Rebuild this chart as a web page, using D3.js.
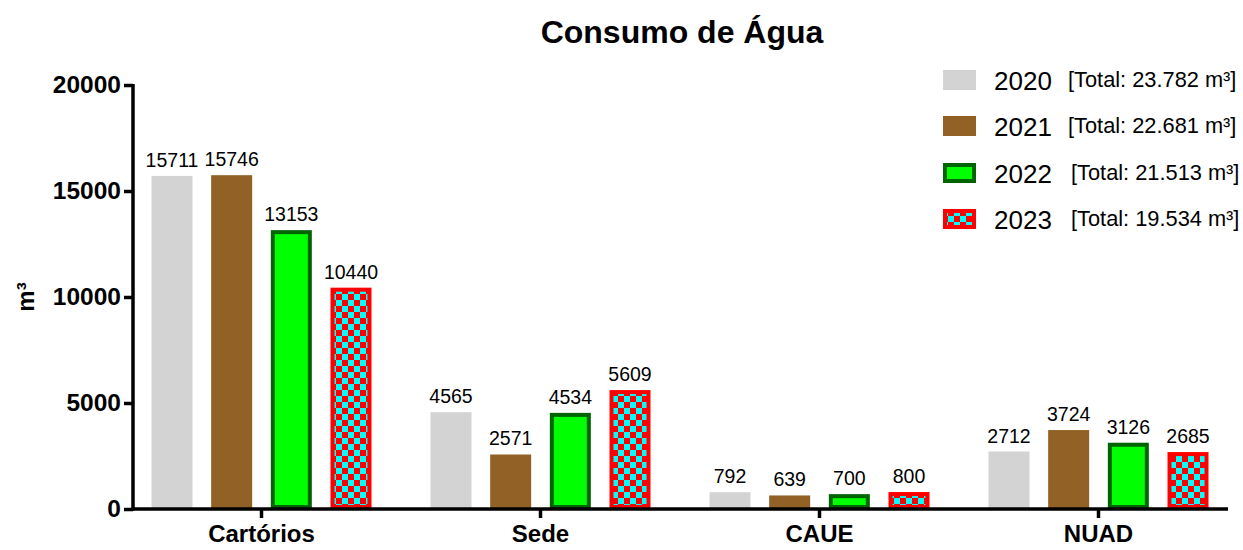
<!DOCTYPE html>
<html>
<head>
<meta charset="utf-8">
<script src="https://cdn.jsdelivr.net/npm/d3@7"></script>
<style>
  body { margin: 0; background: #fff; }
  text { font-family: "Liberation Sans", Arial, sans-serif; }
</style>
</head>
<body>
<svg width="1243" height="550"></svg>
<script>
const categories = ['Cartórios', 'Sede', 'CAUE', 'NUAD'];
const years = ['2020', '2021', '2022', '2023'];
const totals = ['[Total: 23.782 m³]', '[Total: 22.681 m³]', '[Total: 21.513 m³]', '[Total: 19.534 m³]'];
const v2020 = [15711, 4565, 792, 2712];
const v2021 = [15746, 2571, 639, 3724];
const v2022 = [13153, 4534, 700, 3126];
const v2023 = [10440, 5609, 800, 2685];
const yTicks = [0, 5000, 10000, 15000, 20000];

const seriesVals = [v2020, v2021, v2022, v2023];

const svg = d3.select('svg');
const width = +svg.attr('width');
const height = +svg.attr('height');

const defs = svg.append('defs');
const pat = defs.append('pattern')
  .attr('id', 'checker')
  .attr('width', 12).attr('height', 12)
  .attr('patternUnits', 'userSpaceOnUse');
pat.append('rect').attr('width', 12).attr('height', 12).attr('fill', '#ff0000');
pat.append('rect').attr('width', 6).attr('height', 6).attr('fill', '#00ffff');
pat.append('rect').attr('x', 6).attr('y', 6).attr('width', 6).attr('height', 6).attr('fill', '#00ffff');

const styles = [
  {fill: '#d3d3d3', stroke: 'none', sw: 0},
  {fill: '#916125', stroke: 'none', sw: 0},
  {fill: '#00ff00', stroke: '#006400', sw: 4},
  {fill: 'url(#checker)', stroke: '#ff0000', sw: 4}
];

const y = d3.scaleLinear().domain([0, 20000]).range([509, 85]);
const x0 = d3.scaleBand().domain(categories).range([122, 1238]);
const x1 = d3.scaleBand().domain(years).range([-110, 110]).paddingInner(0.313).paddingOuter(0);

// title
svg.append('text')
  .attr('x', 682).attr('y', 43)
  .attr('text-anchor', 'middle')
  .attr('font-size', 32).attr('font-weight', 'bold')
  .text('Consumo de Água');

// bars
years.forEach((yr, i) => {
  const st = styles[i];
  const g = svg.append('g');
  categories.forEach((c, j) => {
    const v = seriesVals[i][j];
    const cx = x0(c) + x0.bandwidth() / 2;
    const bx = cx + x1(yr);
    const bw = x1.bandwidth();
    const inset = st.sw / 2;
    g.append('rect')
      .attr('x', bx + inset)
      .attr('y', y(v) + inset)
      .attr('width', bw - st.sw)
      .attr('height', Math.max(0, y(0) - y(v) - st.sw))
      .attr('fill', st.fill)
      .attr('stroke', st.stroke)
      .attr('stroke-width', st.sw);
    g.append('text')
      .attr('x', bx + bw / 2)
      .attr('y', y(v) - 9)
      .attr('text-anchor', 'middle')
      .attr('font-size', 19.5)
      .text(v);
  });
});

// y axis
const yAxis = d3.axisLeft(y).tickValues(yTicks).tickSize(9).tickSizeOuter(0).tickPadding(3).tickFormat(d3.format('d'));
const ga = svg.append('g').attr('transform', 'translate(133,0)').call(yAxis);
ga.select('.domain').attr('stroke-width', 3.5).attr('d', 'M0,84V510.5');
ga.selectAll('.tick line').attr('stroke-width', 3.5);
ga.selectAll('.tick text').attr('font-size', 24.5).attr('font-weight', 'bold')
  .attr('font-family', '"Liberation Sans", Arial, sans-serif').attr('fill', '#000');

// x axis
const xAxis = d3.axisBottom(x0).tickSize(9).tickSizeOuter(0).tickPadding(7);
const gx = svg.append('g').attr('transform', 'translate(0,509)').call(xAxis);
gx.select('.domain').attr('stroke-width', 3.5).attr('d', 'M131.5,0H1228');
gx.selectAll('.tick line').attr('stroke-width', 3.5);
gx.selectAll('.tick text').attr('font-size', 24).attr('font-weight', 'bold')
  .attr('font-family', '"Liberation Sans", Arial, sans-serif').attr('fill', '#000');

// y label
svg.append('text')
  .attr('transform', 'translate(34,297) rotate(-90)')
  .attr('text-anchor', 'middle')
  .attr('font-size', 24).attr('font-weight', 'bold')
  .text('m³');

// legend
const lg = svg.append('g');
const legY = [80, 126, 173, 219];
years.forEach((yr, i) => {
  const st = styles[i];
  lg.append('rect')
    .attr('x', 943 + st.sw / 2).attr('y', legY[i] - 10 + st.sw / 2)
    .attr('width', 33 - st.sw).attr('height', 20 - st.sw)
    .attr('fill', st.fill).attr('stroke', st.stroke).attr('stroke-width', st.sw);
  lg.append('text')
    .attr('x', 994).attr('y', legY[i] + 10)
    .attr('font-size', 26)
    .text(yr);
  lg.append('text')
    .attr('x', i < 2 ? 1068 : 1071).attr('y', legY[i] + 7)
    .attr('font-size', 21.8)
    .text(totals[i]);
});
</script>
</body>
</html>
